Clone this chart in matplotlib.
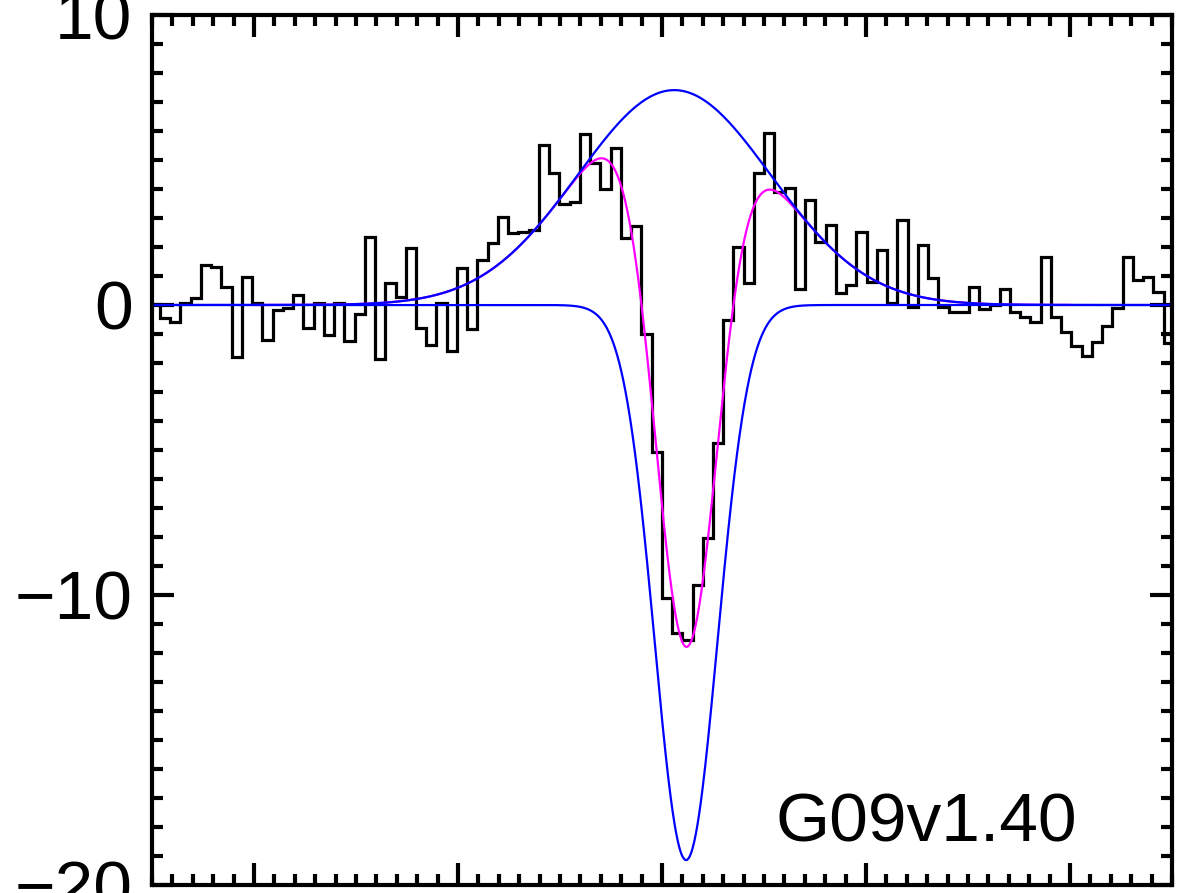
import numpy as np
import matplotlib
matplotlib.use("Agg")
import matplotlib.pyplot as plt
from matplotlib.ticker import MultipleLocator

# spectrum: flux per channel, channels 25.1 km/s wide
chan_width = 25.1
first_edge = -1255.5
flux = [0.03, -0.46, -0.60, 0.06, 0.23, 1.38, 1.32, 0.63, -1.78, 0.98,
        0.06, -1.21, -0.16, -0.10, 0.34, -0.80, 0.06, -1.03, 0.06, -1.25,
        -0.30, 2.36, -1.87, 0.75, 0.27, 1.95, -0.78, -1.38, 0.06, -1.59,
        1.26, -0.83, 1.55, 2.13, 3.05, 2.47, 2.53, 2.59, 5.53, 4.55,
        3.48, 3.55, 5.88, 4.90, 4.01, 5.43, 2.30, 2.74, -0.99, -5.06,
        -10.11, -11.32, -11.55, -9.66, -8.05, -4.75, -0.53, 2.01, 0.77, 4.56,
        5.94, 3.91, 4.02, 0.54, 3.62, 2.16, 2.76, 0.43, 0.69, 2.53,
        0.80, 1.88, 0.07, 2.94, -0.07, 2.07, 0.92, -0.08, -0.23, -0.23,
        0.63, -0.15, 0.00, 0.55, -0.23, -0.40, -0.57, 1.67, -0.40, -0.92,
        -1.41, -1.76, -1.26, -0.72, -0.11, 1.67, 0.86, 0.98, 0.46, -1.32]

# fitted components (amplitude, centre, sigma)
emis_amp, emis_cen, emis_sig = 7.41, 30.0, 236.0
abs_amp, abs_cen, abs_sig = -19.14, 59.0, 77.0
total_range = (-1000, 1000)

label = "G09v1.40"

edges = first_edge + chan_width * np.arange(len(flux) + 1)
v = np.linspace(-1250, 1250, 2001)
emis = emis_amp * np.exp(-(v - emis_cen) ** 2 / (2 * emis_sig ** 2))
absn = abs_amp * np.exp(-(v - abs_cen) ** 2 / (2 * abs_sig ** 2))
mask = (v >= total_range[0]) & (v <= total_range[1])

plt.rcParams['font.family'] = ['Liberation Sans', 'DejaVu Sans']

fig = plt.figure(figsize=(11.78, 8.93), dpi=100)
ax = fig.add_axes([152 / 1178, 1 - 885 / 893, 1020 / 1178, 870 / 893])

ax.stairs(flux, edges, color='black', lw=2.3, baseline=None)
ax.plot(v[mask], (emis + absn)[mask], color='#ff00ff', lw=1.6)
ax.plot(v, emis, color='#0000ff', lw=1.6)
ax.plot(v, absn, color='#0000ff', lw=1.6)

ax.set_xlim(-1250, 1250)
ax.set_ylim(-20, 10)

ax.xaxis.set_major_locator(MultipleLocator(500))
ax.xaxis.set_minor_locator(MultipleLocator(50))
ax.yaxis.set_major_locator(MultipleLocator(10))
ax.yaxis.set_minor_locator(MultipleLocator(1))
ax.tick_params(which='both', direction='in', top=True, right=True, width=3.0)
ax.tick_params(which='major', length=16)
ax.tick_params(which='minor', length=8)
ax.tick_params(axis='x', labelbottom=False)
ax.tick_params(axis='y', labelsize=50, pad=14)
for s in ax.spines.values():
    s.set_linewidth(3.0)

ax.text(277, -18.5, label, fontsize=50, va='baseline', ha='left')

fig.savefig("out.png", dpi=100)
